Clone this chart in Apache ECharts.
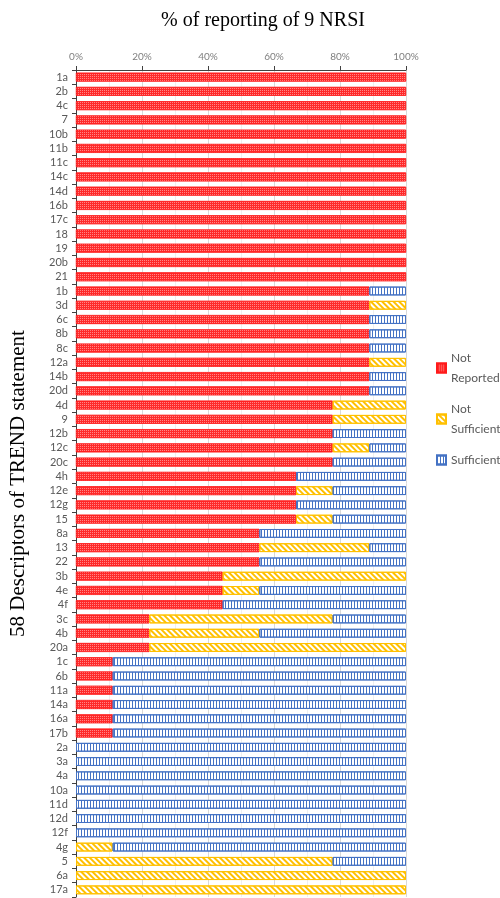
<!DOCTYPE html>
<html><head><meta charset="utf-8">
<script src="https://cdn.jsdelivr.net/npm/echarts@6/dist/echarts.min.js"></script>
<style>html,body{margin:0;padding:0;background:#fff}#c{width:500px;height:898px}</style>
</head><body><div id="c"></div>
<script>
const categories = ['1a','2b','4c','7','10b','11b','11c','14c','14d','16b','17c','18','19','20b','21',
 '1b','3d','6c','8b','8c','12a','14b','20d',
 '4d','9','12b','12c','20c',
 '4h','12e','12g','15',
 '8a','13','22',
 '3b','4e','4f',
 '3c','4b','20a',
 '1c','6b','11a','14a','16a','17b',
 '2a','3a','4a','10a','11d','12d','12f',
 '4g','5','6a','17a'];
// counts out of 9 NRSI
const notReported = [9,9,9,9,9,9,9,9,9,9,9,9,9,9,9,
 8,8,8,8,8,8,8,8,
 7,7,7,7,7,
 6,6,6,6,
 5,5,5,
 4,4,4,
 2,2,2,
 1,1,1,1,1,1,
 0,0,0,0,0,0,0,
 0,0,0,0];
const notSufficient = [0,0,0,0,0,0,0,0,0,0,0,0,0,0,0,
 0,1,0,0,0,1,0,0,
 2,2,0,1,0,
 0,1,0,1,
 0,3,0,
 5,1,0,
 5,3,7,
 0,0,0,0,0,0,
 0,0,0,0,0,0,0,
 1,7,9,9];
const sufficient = [0,0,0,0,0,0,0,0,0,0,0,0,0,0,0,
 1,0,1,1,1,0,1,1,
 0,0,2,1,2,
 3,2,3,2,
 4,1,4,
 0,4,5,
 2,4,0,
 8,8,8,8,8,8,
 9,9,9,9,9,9,9,
 8,2,0,0];
const xTicks = ['0%','20%','40%','60%','80%','100%'];
const total = 9;
const pct = a => a.map(v => v === 0 ? '-' : v / total * 100);

const chart = echarts.init(document.getElementById('c'), null, {renderer:'canvas'});
const labelFont = 'Lato, "Liberation Sans Narrow", "Noto Sans", sans-serif';
chart.setOption({
  animation:false,
  title:{text:'% of reporting of 9 NRSI', left:258, textAlign:'center', top:6,
    textStyle:{fontFamily:'"Liberation Serif", serif', fontSize:20, fontWeight:'normal', color:'#000'}},
  legend:{
    orient:'vertical', left:431, top:343, itemWidth:9, itemHeight:9, itemGap:11, icon:'rect',
    data:['Not Reported','Not Sufficient','Sufficient'],
    formatter: n => n.replace(' ', '\n'),
    textStyle:{fontFamily:labelFont, fontSize:12, color:'#595959', lineHeight:20}
  },
  grid:{left:76, right:94, top:70, bottom:1, containLabel:false, outerBoundsMode:'none'},
  xAxis:{type:'value', position:'top', min:0, max:100, interval:20,
    axisLine:{show:true, lineStyle:{color:'#404040'}},
    axisTick:{show:true, length:4, lineStyle:{color:'#404040'}},
    axisLabel:{formatter: (v) => xTicks[Math.round(v/20)], fontFamily:labelFont, fontSize:10, color:'#7f7f7f', margin:8},
    splitLine:{show:true, lineStyle:{color:'#d9d9d9'}},
    minorTick:{show:false, splitNumber:2},
    minorSplitLine:{show:true, lineStyle:{color:'#efefef'}}
  },
  yAxis:{type:'category', inverse:true, data:categories,
    name:'58 Descriptors of TREND statement', nameLocation:'middle', nameRotate:90, nameGap:47,
    nameTextStyle:{fontFamily:'"Liberation Serif", serif', fontSize:21, color:'#000'},
    axisLine:{show:true, lineStyle:{color:'#404040'}},
    axisTick:{show:true, length:4, lineStyle:{color:'#404040'}},
    axisLabel:{interval:0, fontFamily:labelFont, fontSize:11, color:'#595959', margin:8},
    splitLine:{show:false}
  },
  series:[
    {name:'Not Reported', type:'bar', stack:'s', barCategoryGap:'38%', data:pct(notReported),
     itemStyle:{color:'#ff2a2a', borderColor:'#ff1a1a', borderWidth:0.6,
       decal:{symbol:'rect', color:'rgba(255,175,175,0.7)', dashArrayX:[1,1], dashArrayY:[1,1], symbolSize:1, rotation:0}}},
    {name:'Not Sufficient', type:'bar', stack:'s', data:pct(notSufficient),
     itemStyle:{color:'#ffffff', borderColor:'#ffc000', borderWidth:1,
       decal:{symbol:'rect', color:'#ffc000', dashArrayX:[2,2], dashArrayY:[4,0], symbolSize:1, rotation:-Math.PI/4}}},
    {name:'Sufficient', type:'bar', stack:'s', data:pct(sufficient),
     itemStyle:{color:'#ffffff', borderColor:'#4472c4', borderWidth:1,
       decal:{symbol:'rect', color:'#4472c4', dashArrayX:[1,2], dashArrayY:[4,0], symbolSize:1, rotation:0}}}
  ]
});
</script></body></html>
